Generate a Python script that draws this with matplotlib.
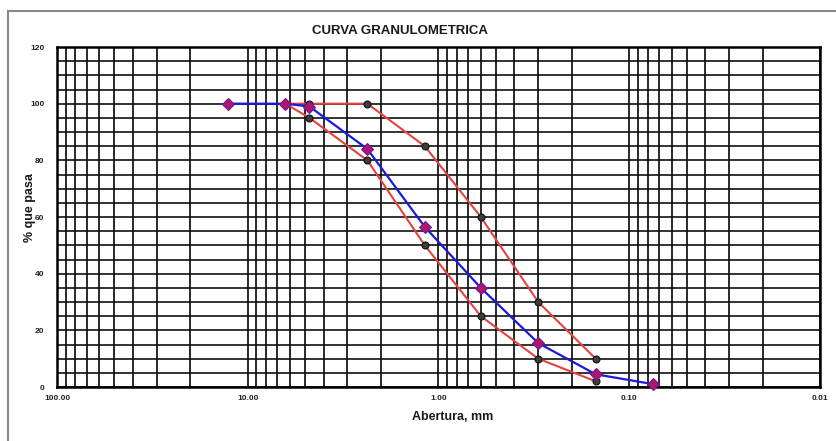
import matplotlib.pyplot as plt
import numpy as np
from matplotlib.ticker import LogLocator, FixedLocator, NullFormatter

plt.rcParams['font.family'] = ['Liberation Sans', 'DejaVu Sans']

# sieve openings (mm) and percent passing
abertura_muestra = [12.7, 6.35, 4.75, 2.36, 1.18, 0.6, 0.3, 0.15, 0.075]
pasa_muestra = [100, 100, 99, 84, 56.5, 35, 15.5, 4.5, 1]

abertura_limites = [6.35, 4.75, 2.36, 1.18, 0.6, 0.3, 0.15]
limite_superior = [100, 100, 100, 85, 60, 30, 10]
limite_inferior = [100, 95, 80, 50, 25, 10, 2]

x_ticks = [100, 10, 1, 0.1, 0.01]
x_ticklabels = ['100.00', '10.00', '1.00', '0.10', '0.01']
y_ticks = [0, 20, 40, 60, 80, 100, 120]

fig = plt.figure(figsize=(8.37, 4.41), dpi=100)
ax = fig.add_axes([57/837, 1-387/441, (820-57)/837, (387-47)/441])

# chart area frame (left and top edges only show)
fig.add_artist(plt.Line2D([8/837, 8/837], [0, 1-11/441], color='#888888', lw=1.5,
                          transform=fig.transFigure))
fig.add_artist(plt.Line2D([8/837, 1], [1-11/441, 1-11/441], color='#888888', lw=1.5,
                          transform=fig.transFigure))

ax.set_xscale('log')
ax.set_xlim(100, 0.01)
ax.set_ylim(0, 120)

ax.set_xticks(x_ticks)
ax.set_xticklabels(x_ticklabels)
ax.xaxis.set_minor_locator(LogLocator(base=10, subs=np.arange(2, 10)))
ax.xaxis.set_minor_formatter(NullFormatter())
ax.set_yticks(y_ticks)
ax.yaxis.set_minor_locator(FixedLocator(np.arange(0, 121, 5)))

ax.grid(True, which='both', axis='x', color='#2a2a2a', lw=1.4)
ax.grid(True, which='both', axis='y', color='#111111', lw=1.2)
ax.set_axisbelow(True)

ax.tick_params(which='both', length=0)
ax.tick_params(axis='x', labelsize=6, pad=6, colors='#222222')
ax.tick_params(axis='y', labelsize=6, pad=9, colors='#222222')
for lab in ax.get_xticklabels() + ax.get_yticklabels():
    lab.set_fontweight('bold')

for sp in ax.spines.values():
    sp.set_color('black')
    sp.set_linewidth(1.8)

ax.plot(abertura_limites, limite_superior, color='#e4433f', lw=1.5, marker='o',
        ms=5, mfc='#3a3f3a', mec='#111111', mew=0.8, zorder=3)
ax.plot(abertura_limites, limite_inferior, color='#e4433f', lw=1.5, marker='o',
        ms=5, mfc='#3a3f3a', mec='#111111', mew=0.8, zorder=3)
ax.plot(abertura_muestra, pasa_muestra, color='#1a1adc', lw=1.6, marker='D',
        ms=6, mfc='#b0156e', mec='#6a1a9a', mew=0.8, zorder=4, clip_on=False)

fig.text(400/837, 1-31/441, 'CURVA GRANULOMETRICA', ha='center', va='center',
         fontsize=9.5, fontweight='bold', color='#1a1a1a')
fig.text(453/837, 1-417/441, 'Abertura, mm', ha='center', va='center',
         fontsize=9, fontweight='bold', color='#1a1a1a')
fig.text(30/837, 1-208/441, '% que pasa', ha='center', va='center', rotation=90,
         fontsize=9, fontweight='bold', color='#1a1a1a')

fig.savefig('out.png', dpi=100)
